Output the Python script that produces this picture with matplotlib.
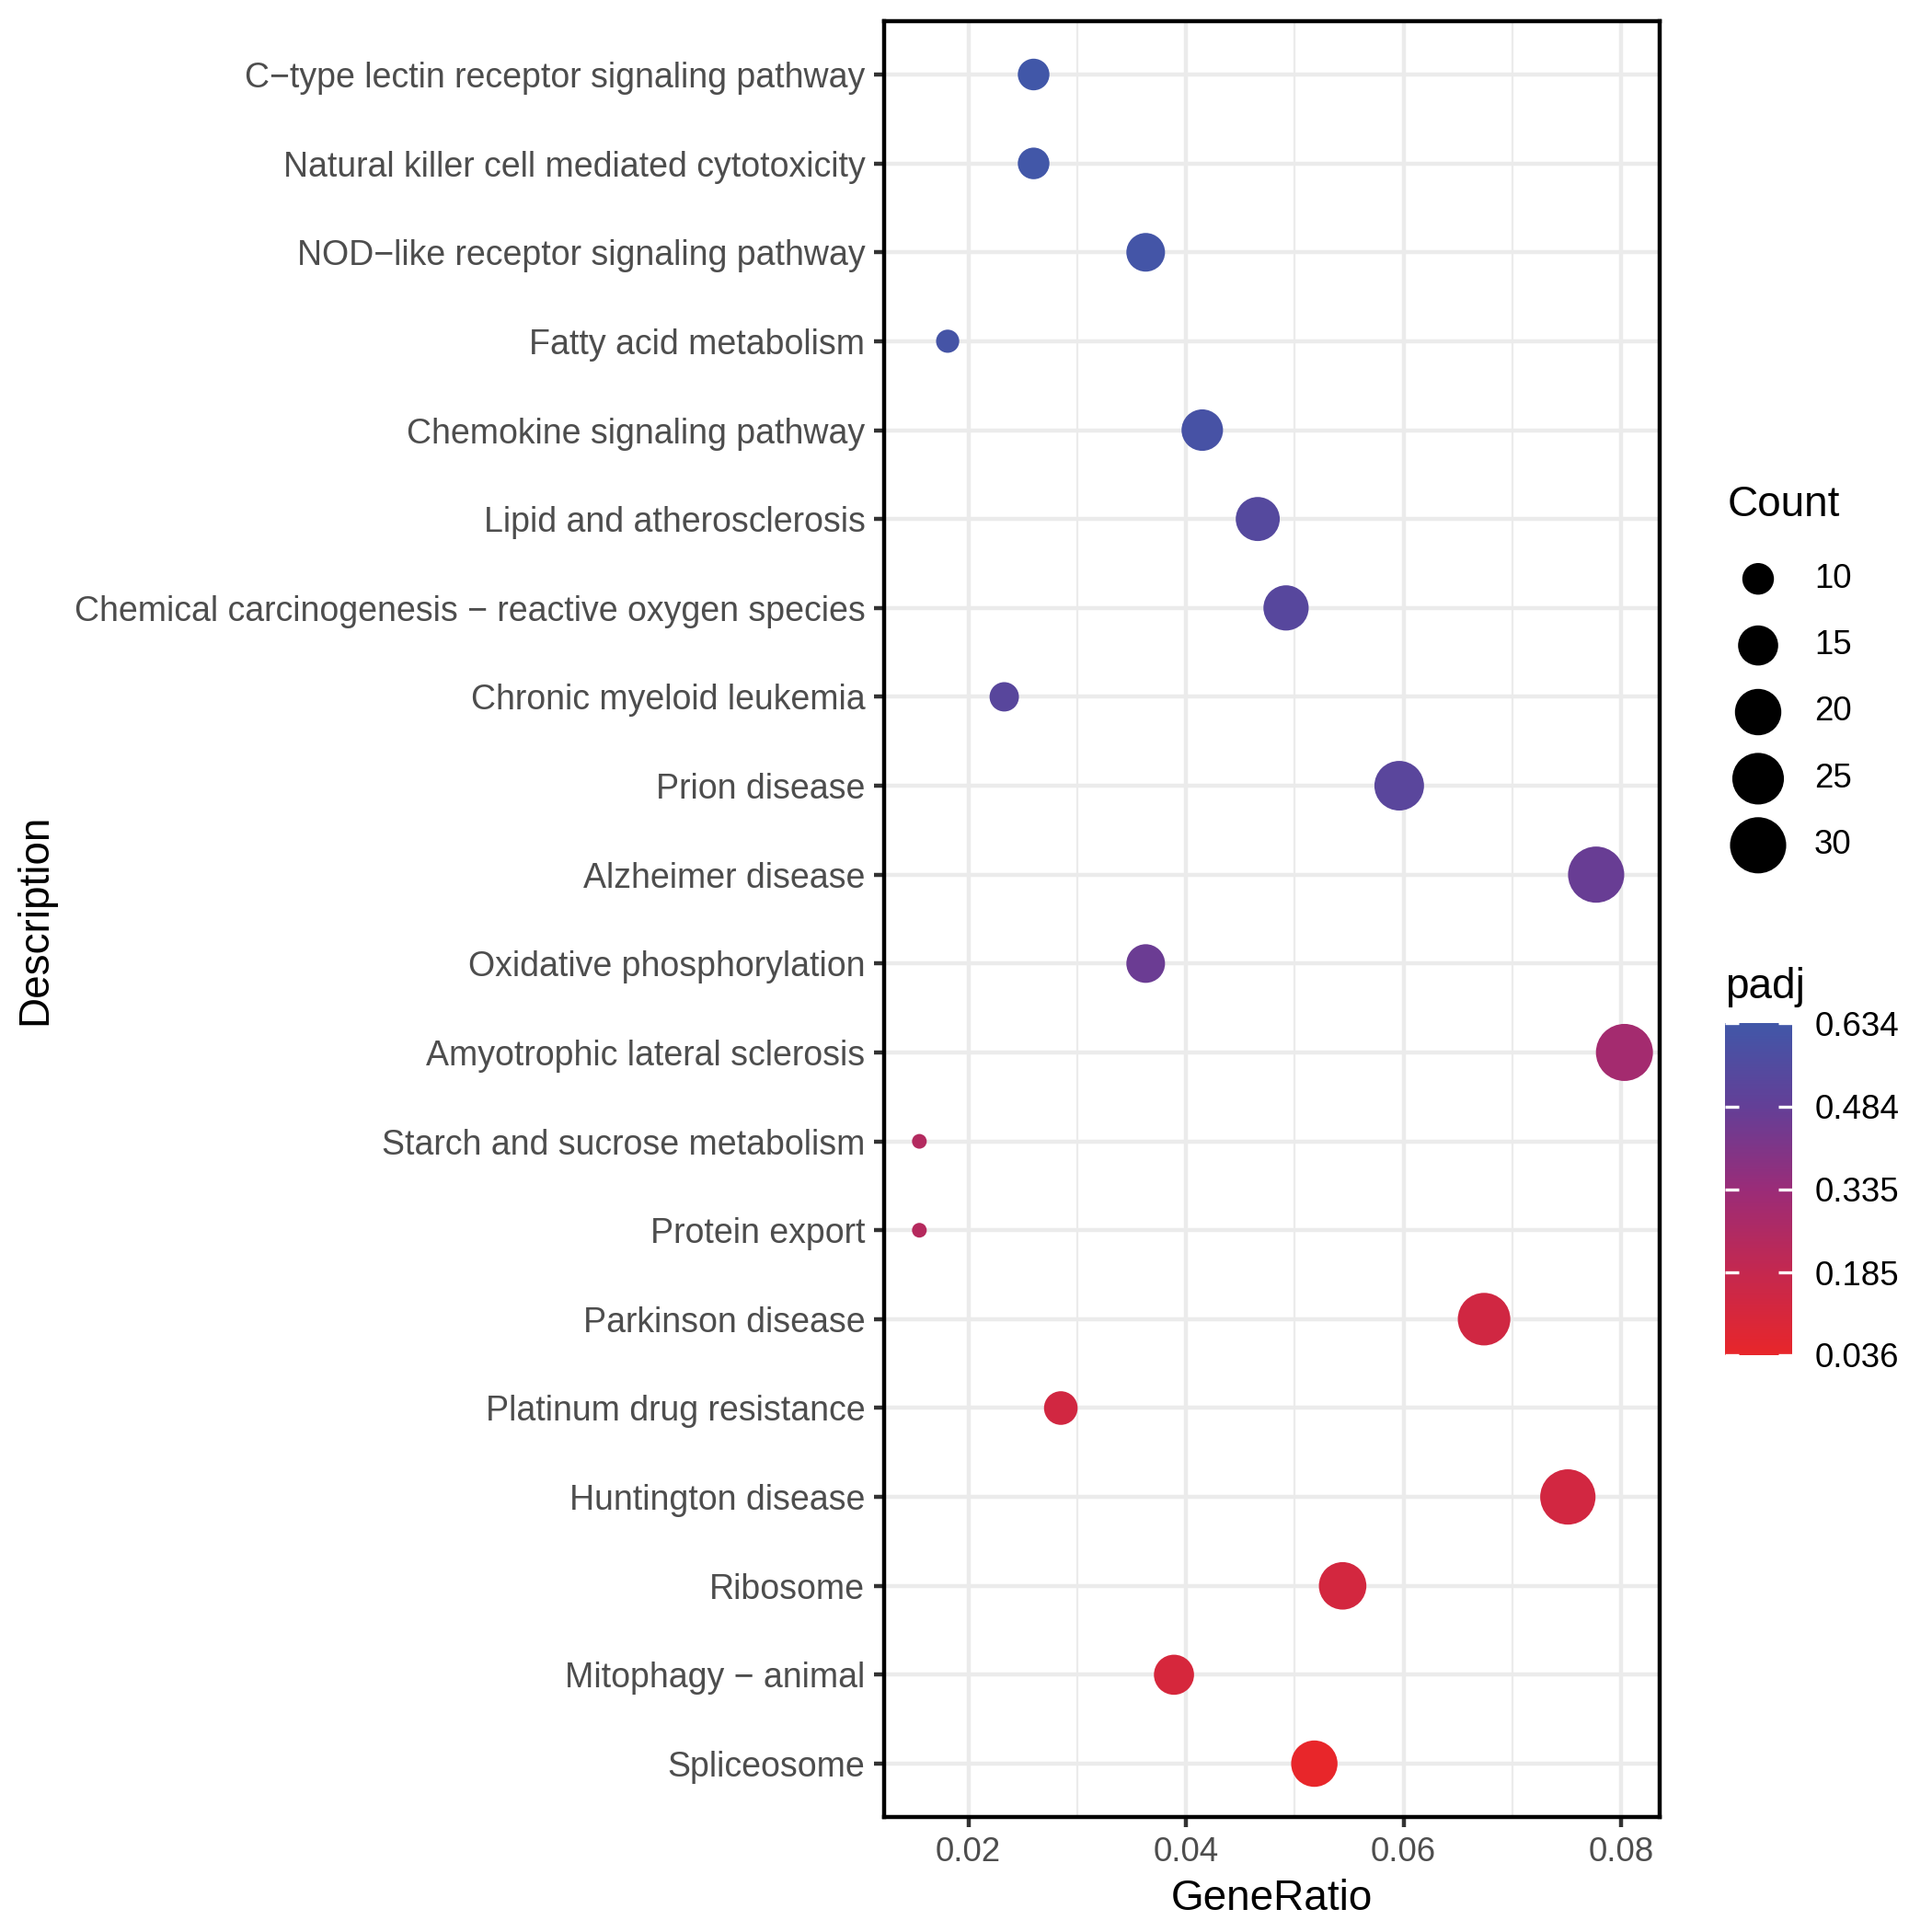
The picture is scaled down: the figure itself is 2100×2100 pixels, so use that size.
import numpy as np
import matplotlib
matplotlib.use('Agg')
import matplotlib.pyplot as plt
from matplotlib.colors import LinearSegmentedColormap, Normalize
from matplotlib.cm import ScalarMappable
from matplotlib.ticker import FormatStrFormatter

plt.rcParams['font.family'] = ['Liberation Sans', 'DejaVu Sans']

# KEGG enrichment, top row first as in the plot
description = [
    'C\u2212type lectin receptor signaling pathway',
    'Natural killer cell mediated cytotoxicity',
    'NOD\u2212like receptor signaling pathway',
    'Fatty acid metabolism',
    'Chemokine signaling pathway',
    'Lipid and atherosclerosis',
    'Chemical carcinogenesis \u2212 reactive oxygen species',
    'Chronic myeloid leukemia',
    'Prion disease',
    'Alzheimer disease',
    'Oxidative phosphorylation',
    'Amyotrophic lateral sclerosis',
    'Starch and sucrose metabolism',
    'Protein export',
    'Parkinson disease',
    'Platinum drug resistance',
    'Huntington disease',
    'Ribosome',
    'Mitophagy \u2212 animal',
    'Spliceosome',
]
gene_ratio = [0.0260, 0.0260, 0.0363, 0.0181, 0.0415, 0.0466, 0.0492, 0.0233,
              0.0596, 0.0777, 0.0363, 0.0803, 0.0155, 0.0155, 0.0674, 0.0285,
              0.0751, 0.0544, 0.0389, 0.0518]
count = [10, 10, 14, 7, 16, 18, 19, 9, 23, 30, 14, 31, 6, 6, 26, 11, 29, 21, 15, 20]
padj = [0.634, 0.630, 0.622, 0.616, 0.605, 0.545, 0.535, 0.530, 0.525, 0.470,
        0.462, 0.300, 0.245, 0.238, 0.135, 0.130, 0.128, 0.124, 0.110, 0.036]

count_breaks = [10, 15, 20, 25, 30]
padj_breaks = [0.036, 0.185, 0.335, 0.484, 0.634]

# colours, low -> high
bar_colours = ['#E8262A', '#C4284F', '#9A2C78', '#633F97', '#4157A8']

DPI = 300
W = 2100


def dot_area(c):
    # diameter in px, area scale like ggplot's scale_size
    c = np.asarray(c, float)
    frac = (c - min(count)) / (max(count) - min(count))
    d = 16 + 46 * np.sqrt(np.clip(frac, 0, 1))
    return (d * 72 / DPI) ** 2


def px_box(left, top, right, bottom):
    return [left / W, 1 - bottom / W, (right - left) / W, (bottom - top) / W]


cmap = LinearSegmentedColormap.from_list('padj', bar_colours)
norm = Normalize(min(padj), max(padj))

fig = plt.figure(figsize=(7, 7), dpi=DPI)
ax = fig.add_axes(px_box(961, 23, 1804, 1975))

y = np.arange(len(description))
ax.scatter(gene_ratio, y, s=dot_area(count), c=padj, cmap=cmap, norm=norm,
           edgecolors='none', zorder=3)

lo, hi = min(gene_ratio), max(gene_ratio)
pad = 0.05 * (hi - lo)
ax.set_xlim(lo - pad, hi + pad)
ax.set_ylim(len(description) - 0.4, -0.6)

ax.set_yticks(y)
ax.set_yticklabels(description)
ax.set_xticks([0.02, 0.04, 0.06, 0.08])
ax.set_xticks([0.03, 0.05, 0.07], minor=True)
ax.xaxis.set_major_formatter(FormatStrFormatter('%.2f'))

ax.set_axisbelow(True)
ax.grid(which='major', color='#EBEBEB', lw=1.07)
ax.grid(which='minor', axis='x', color='#EBEBEB', lw=0.53)
ax.tick_params(which='major', length=2.75, width=1.07, color='#333333',
               labelcolor='#4D4D4D', labelsize=8.8, pad=2.2)
ax.tick_params(axis='y', labelsize=9.0)
ax.tick_params(which='minor', length=0)
for sp in ax.spines.values():
    sp.set_color('black')
    sp.set_linewidth(1.07)

ax.set_xlabel('GeneRatio', fontsize=11, labelpad=2.75)
ax.set_ylabel('Description', fontsize=11)
ax.yaxis.set_label_coords(60 / W, 1 - 999 / W, transform=fig.transFigure)

# size legend
fig.text(1878 / W, 1 - 549 / W, 'Count', fontsize=11, va='center', ha='left')
lax = fig.add_axes(px_box(1860, 593, 2020, 955))
lax.set_xlim(0, 160)
lax.set_ylim(len(count_breaks) - 0.5, -0.5)
lax.axis('off')
ky = np.arange(len(count_breaks))
lax.scatter(np.full(len(ky), 51), ky, s=dot_area(count_breaks), color='black',
            edgecolors='none', clip_on=False)
for i, b in enumerate(count_breaks):
    lax.text(112, i, str(b), fontsize=8.8, va='center', ha='left')

# colour bar
fig.text(1875 / W, 1 - 1073 / W, 'padj', fontsize=11, va='center', ha='left')
cax = fig.add_axes(px_box(1875, 1112, 1948, 1473))
cb = fig.colorbar(ScalarMappable(norm=norm, cmap=cmap), cax=cax, ticks=padj_breaks)
cb.outline.set_visible(False)
cb.set_ticklabels(['%.3f' % v for v in padj_breaks])
cax.tick_params(direction='in', length=3.5, width=0.8, color='white',
                left=True, right=True, labelsize=8.8, pad=5.8)

fig.savefig('out.png', dpi=DPI)
